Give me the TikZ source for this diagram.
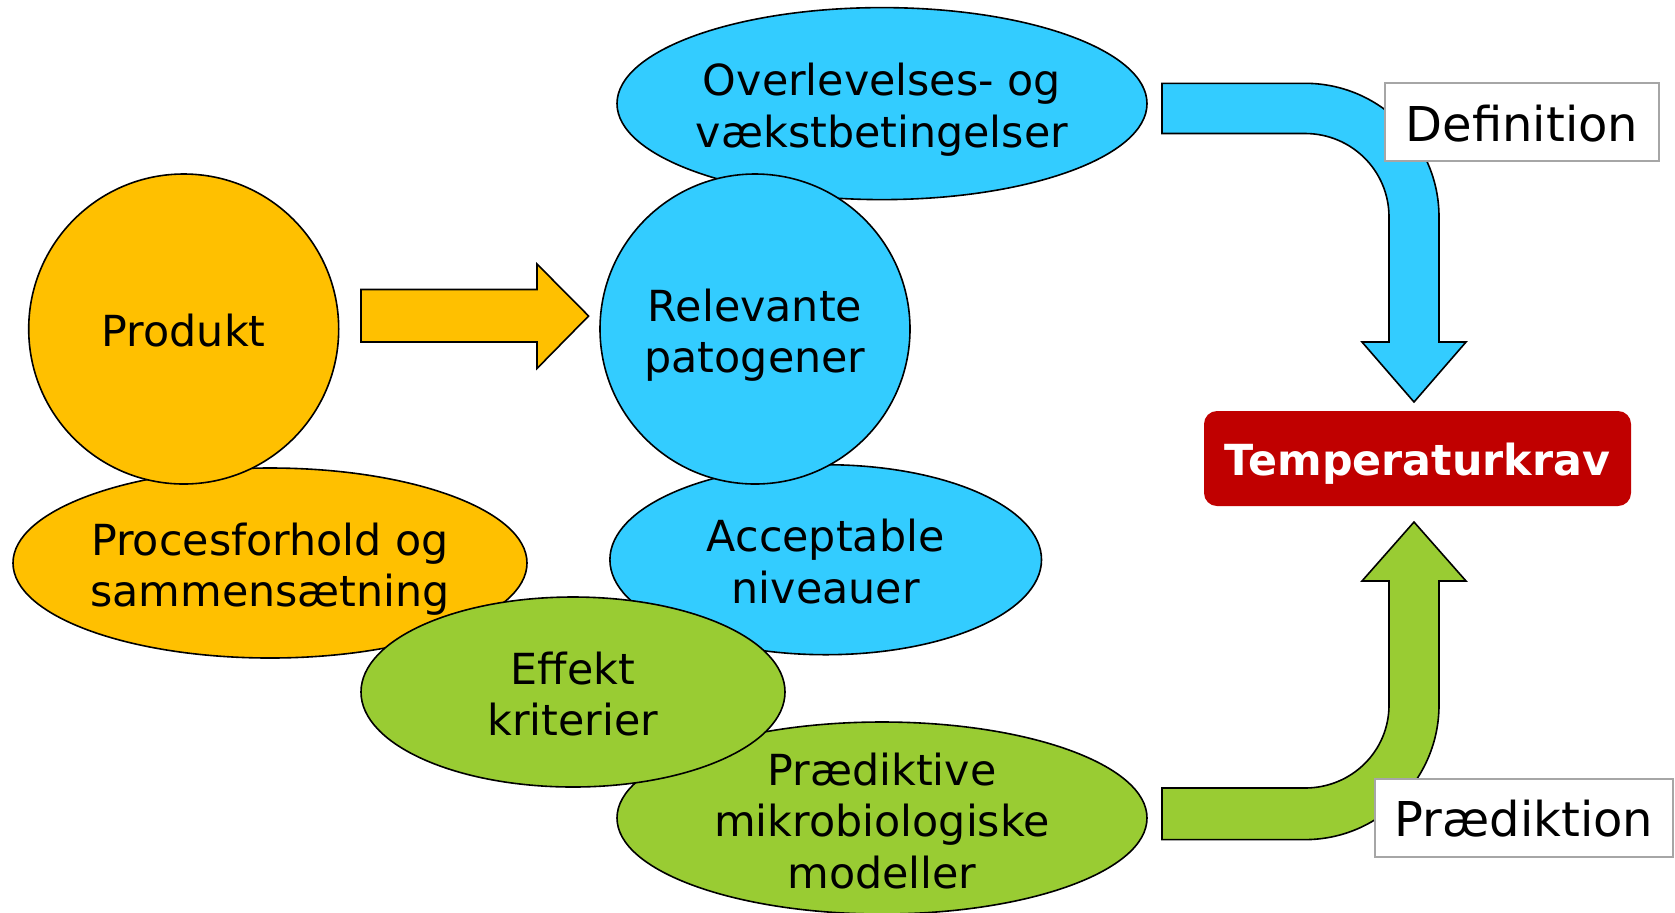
\documentclass[tikz,border=0pt]{standalone}
\usepackage{fontspec}
\setmainfont{DejaVu Sans}
\usetikzlibrary{shapes.geometric}
\definecolor{orangeF}{HTML}{FFC000}
\definecolor{blueF}{HTML}{33CCFF}
\definecolor{greenF}{HTML}{99CC33}
\definecolor{redF}{HTML}{C00000}
\definecolor{grayB}{HTML}{A6A6A6}
\tikzset{
  blob/.style={ellipse, draw=black, line width=0.8pt, inner sep=0pt},
  ball/.style={circle, draw=black, line width=0.8pt, inner sep=0pt, minimum size=155pt},
  txt/.style={align=center, inner sep=0pt, font=\fontsize{21.4}{25.7}\selectfont},
  blockarrow/.style={draw=black, line width=0.8pt},
  labelbox/.style={rectangle, draw=grayB, line width=0.8pt, fill=white, inner sep=0pt,
    minimum height=39pt},
  labeltxt/.style={inner sep=0pt, font=\fontsize{24}{28}\selectfont},
}
\begin{document}
\begin{tikzpicture}[x=0.5pt, y=-0.5pt]
\useasboundingbox (0,0) rectangle (1675,912);

% blue group
\node[blob, fill=blueF, minimum width=265pt, minimum height=96pt] (ov) at (882,103.6) {};
\node[txt] (ovT) at ([yshift=-3pt]ov.center) {Overlevelses- og\\vækstbetingelser};
\node[blob, fill=blueF, minimum width=215.8pt, minimum height=95pt] (acc) at (825.7,559.7) {};
\node[txt] (accT) at ([yshift=-1pt]acc.center) {Acceptable\\niveauer};
\node[ball, fill=blueF] (rel) at (755,329) {};
\node[txt] (relT) at ([yshift=-3pt]rel.center) {Relevante\\patogener};

% orange group
\node[blob, fill=orangeF, minimum width=257pt, minimum height=95pt] (proc) at (270,563) {};
\node[txt] (procT) at ([yshift=-3pt]proc.center) {Procesforhold og\\sammensætning};
\node[ball, fill=orangeF] (prod) at (183.7,329) {};
\node[txt] (prodT) at ([yshift=-1pt]prod.center) {Produkt};

% green group
\node[blob, fill=greenF, minimum width=265pt, minimum height=96pt] (praed) at (882,818) {};
\node[txt] (praedT) at ([yshift=-1.5pt]praed.center) {Prædiktive\\mikrobiologiske\\modeller};
\node[blob, fill=greenF, minimum width=212pt, minimum height=95pt] (eff) at (573,692) {};
\node[txt] (effT) at ([yshift=-1pt]eff.center) {Effekt\\kriterier};

% orange block arrow Produkt -> Relevante
\filldraw[blockarrow, fill=orangeF]
  (361,289.5) -- (537,289.5) -- (537,264) -- (588.6,316) -- (537,368.5)
  -- (537,342) -- (361,342) -- cycle;

% target
\node[rectangle, rounded corners=6.5pt, fill=redF, inner sep=0pt,
  minimum width=213.5pt, minimum height=47.5pt] (temp) at (1417.5,458.5) {};
\node[inner sep=0pt, text=white, font=\fontsize{21.4}{25}\selectfont\bfseries]
  (tempT) at ([yshift=-2.5pt]temp.center) {Temperaturkrav};

% blue bent arrow
\filldraw[blockarrow, fill=blueF]
  (1162,83.3) -- (1305,83.3)
  .. controls (1379,83.3) and (1439,143) .. (1439,217)
  -- (1439,342) -- (1466,342) -- (1414,402) -- (1362,342) -- (1389,342)
  -- (1389,217)
  .. controls (1389,170.6) and (1351.4,133.5) .. (1305,133.5)
  -- (1162,133.5) -- cycle;

% green bent arrow
\filldraw[blockarrow, fill=greenF]
  (1162,839.6) -- (1305,839.6)
  .. controls (1379,839.6) and (1439,779) .. (1439,705)
  -- (1439,581) -- (1466,581) -- (1414,522) -- (1362,581) -- (1389,581)
  -- (1389,705)
  .. controls (1389,751.4) and (1351.4,788) .. (1305,788)
  -- (1162,788) -- cycle;

% labels
\node[labelbox, minimum width=136.75pt] (def) at (1522,122) {};
\node[labeltxt] (defT) at ([yshift=-1pt]def.center) {Definition};
\node[labelbox, minimum width=149pt] (pred) at (1524,818) {};
\node[labeltxt] (predT) at ([yshift=-0.5pt]pred.center) {Prædiktion};
\end{tikzpicture}
\end{document}
